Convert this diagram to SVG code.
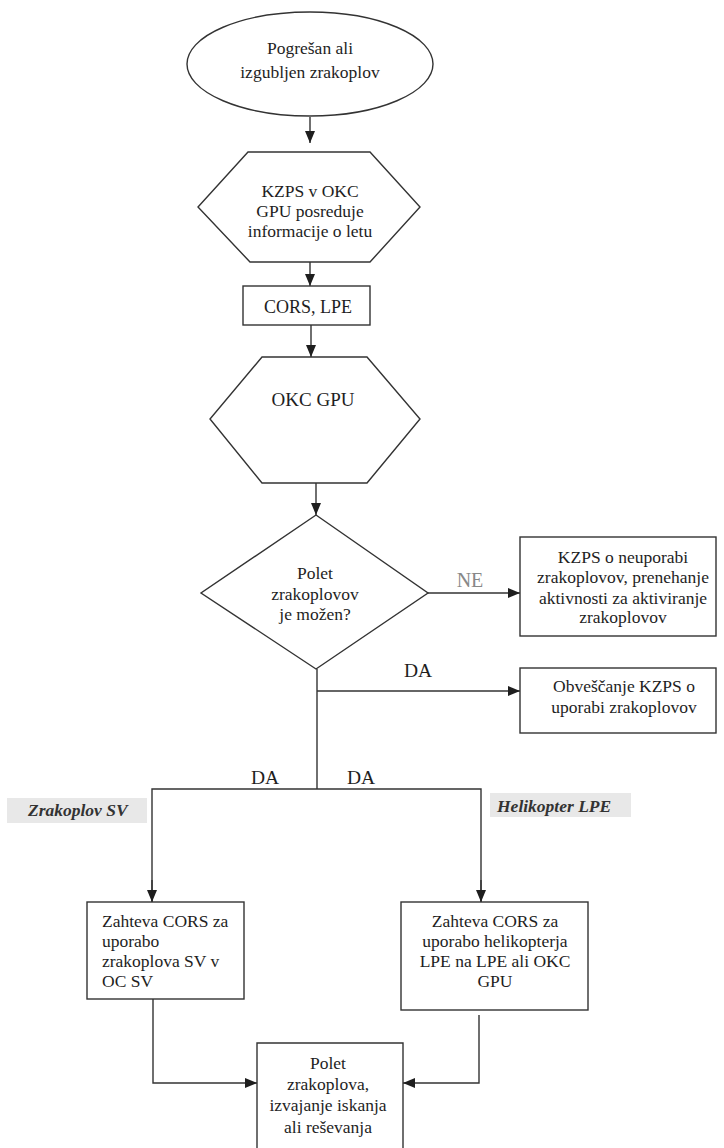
<svg xmlns="http://www.w3.org/2000/svg" width="724" height="1148" viewBox="0 0 724 1148">
<style>
.shape{fill:#fff;stroke:#333;stroke-width:1.4}
.conn{fill:none;stroke:#333;stroke-width:1.4}
text{font-family:"Liberation Serif","Times New Roman",serif;font-size:17.5px;fill:#1e1e1e;text-anchor:middle}
.lbl{font-size:19.5px}
.ne{fill:#888;font-size:20px}
.tag{font-weight:bold;font-style:italic;font-size:17.5px;text-anchor:start;fill:#333}
.tagbg{fill:#e8e8e8}
.left{text-anchor:start}
</style>
<defs>
<marker id="arr" viewBox="0 0 12 10" refX="12" refY="5" markerWidth="12" markerHeight="10" markerUnits="userSpaceOnUse" orient="auto">
<path d="M0,0 L12,5 L0,10 z" fill="#1e1e1e"/>
</marker>
</defs>
<rect width="724" height="1148" fill="#fff"/>
<g id="connectors">
<line class="conn" x1="310" y1="117" x2="310" y2="143" marker-end="url(#arr)"/>
<line class="conn" x1="310" y1="262" x2="310" y2="286" marker-end="url(#arr)"/>
<line class="conn" x1="311" y1="325" x2="311" y2="357" marker-end="url(#arr)"/>
<line class="conn" x1="316" y1="483" x2="316" y2="515" marker-end="url(#arr)"/>
<line class="conn" x1="428" y1="593" x2="520" y2="593" marker-end="url(#arr)"/>
<line class="conn" x1="317" y1="669" x2="317" y2="789"/>
<line class="conn" x1="317" y1="691" x2="520" y2="691" marker-end="url(#arr)"/>
<polyline class="conn" points="152,902 152,789 481,789 481,902"/>
<line class="conn" x1="152" y1="880" x2="152" y2="902" marker-end="url(#arr)"/>
<line class="conn" x1="481" y1="880" x2="481" y2="902" marker-end="url(#arr)"/>
<polyline class="conn" points="153,999 153,1083 257,1083" marker-end="url(#arr)"/>
<polyline class="conn" points="479,1015 479,1083 403,1083" marker-end="url(#arr)"/>
<text class="ne" x="470" y="587">NE</text>
<text class="lbl" x="418" y="677">DA</text>
<text class="lbl" x="265" y="784">DA</text>
<text class="lbl" x="361" y="784">DA</text>
</g>
<g id="start">
<ellipse class="shape" cx="310" cy="64" rx="123" ry="52"/>
<text x="310" y="54">Pogrešan ali</text>
<text x="310" y="78">izgubljen zrakoplov</text>
</g>
<g id="kzps-info">
<polygon class="shape" points="248,152 370,152 420,207 370,262 250,262 198,207"/>
<text x="310" y="197">KZPS v OKC</text>
<text x="310" y="217">GPU posreduje</text>
<text x="310" y="237">informacije o letu</text>
</g>
<g id="cors-lpe">
<rect class="shape" x="243" y="286" width="127" height="39"/>
<text x="308" y="313" style="font-size:18px">CORS, LPE</text>
</g>
<g id="okc-gpu">
<polygon class="shape" points="262,357 367,357 420,419 367,483 262,483 210,419"/>
<text x="313" y="406" style="font-size:19px">OKC GPU</text>
</g>
<g id="decision">
<polygon class="shape" points="316,515 428,593 316,669 201,593"/>
<text x="315" y="579">Polet</text>
<text x="315" y="600">zrakoplovov</text>
<text x="315" y="620">je možen?</text>
</g>
<g id="ne-box">
<rect class="shape" x="520" y="537" width="196" height="99"/>
<text x="623" y="563">KZPS o neuporabi</text>
<text x="623" y="583">zrakoplovov, prenehanje</text>
<text x="623" y="604">aktivnosti za aktiviranje</text>
<text x="623" y="623">zrakoplovov</text>
</g>
<g id="obvescanje">
<rect class="shape" x="520" y="668" width="196" height="65"/>
<text x="624" y="692">Obveščanje KZPS o</text>
<text x="624" y="713">uporabi zrakoplovov</text>
</g>
<g id="tag-sv">
<rect class="tagbg" x="7" y="798" width="140" height="25"/>
<text class="tag" x="28" y="816">Zrakoplov SV</text>
</g>
<g id="tag-lpe">
<rect class="tagbg" x="490" y="793" width="141" height="24"/>
<text class="tag" x="497" y="812">Helikopter LPE</text>
</g>
<g id="req-sv">
<rect class="shape" x="87" y="902" width="157" height="97"/>
<text class="left" x="102" y="927">Zahteva CORS za</text>
<text class="left" x="102" y="947">uporabo</text>
<text class="left" x="102" y="967">zrakoplova SV v</text>
<text class="left" x="102" y="987">OC SV</text>
</g>
<g id="req-lpe">
<rect class="shape" x="401" y="902" width="187" height="108"/>
<text x="495" y="927">Zahteva CORS za</text>
<text x="495" y="947">uporabo helikopterja</text>
<text x="495" y="967">LPE na LPE ali OKC</text>
<text x="495" y="987">GPU</text>
</g>
<g id="flight">
<path class="shape" d="M257,1148 L257,1043 L403,1043 L403,1148"/>
<text x="328" y="1069">Polet</text>
<text x="328" y="1090">zrakoplova,</text>
<text x="328" y="1111">izvajanje iskanja</text>
<text x="328" y="1133">ali reševanja</text>
</g>
</svg>
